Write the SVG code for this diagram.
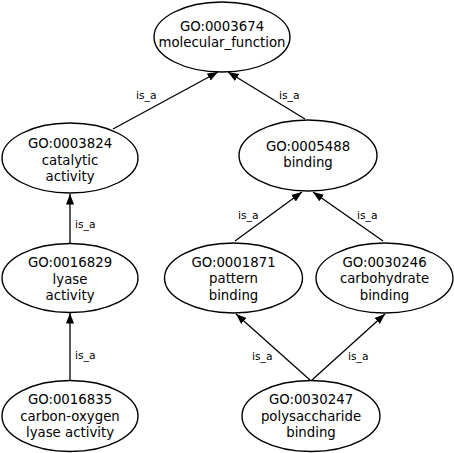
<svg xmlns="http://www.w3.org/2000/svg" width="454" height="453" viewBox="0 0 454 453">
<style>
.n ellipse{fill:#fff;stroke:#000;stroke-width:1.4}
.n text{font-family:"DejaVu Sans",sans-serif;font-size:13.3px;text-anchor:middle;fill:#000}
.e path{fill:none;stroke:#000;stroke-width:1.3;marker-end:url(#ah)}
.e text{font-family:"DejaVu Sans",sans-serif;font-size:10.7px;fill:#000}
</style>
<defs>
<marker id="ah" markerUnits="userSpaceOnUse" markerWidth="11" markerHeight="9" refX="10.5" refY="4.5" orient="auto">
<path d="M0,0.5 L10.5,4.5 L0,8.5 z" fill="#000"/>
</marker>
</defs>
<rect width="454" height="453" fill="#fff"/>
<g id="edges" class="e">
<path d="M113,129 L218,72"/>
<text x="136" y="99">is_a</text>
<path d="M305,119 L228,72"/>
<text x="279" y="99">is_a</text>
<path d="M70,244 L70,194"/>
<text x="75" y="228">is_a</text>
<path d="M70,380 L70,313"/>
<text x="75" y="359">is_a</text>
<path d="M235,241 L302,192"/>
<text x="238" y="219">is_a</text>
<path d="M383,241 L313,192"/>
<text x="357" y="219">is_a</text>
<path d="M310,380 L236,314"/>
<text x="252" y="360">is_a</text>
<path d="M312,380 L385,314"/>
<text x="348" y="360">is_a</text>
</g>
<g id="GO_0003674" class="n">
<ellipse cx="222" cy="37" rx="68" ry="35"/>
<text x="222" y="30.5">GO:0003674</text>
<text x="222" y="46.5">molecular_function</text>
</g>
<g id="GO_0003824" class="n">
<ellipse cx="70" cy="158" rx="68" ry="35"/>
<text x="70" y="147.5">GO:0003824</text>
<text x="70" y="164.5">catalytic</text>
<text x="70" y="181">activity</text>
</g>
<g id="GO_0005488" class="n">
<ellipse cx="308" cy="155.5" rx="69" ry="35.5"/>
<text x="308" y="151">GO:0005488</text>
<text x="308" y="167">binding</text>
</g>
<g id="GO_0016829" class="n">
<ellipse cx="70" cy="278" rx="68" ry="34.5"/>
<text x="70" y="267">GO:0016829</text>
<text x="70" y="283.5">lyase</text>
<text x="70" y="300">activity</text>
</g>
<g id="GO_0001871" class="n">
<ellipse cx="233.5" cy="278" rx="69" ry="35"/>
<text x="233.5" y="266.5">GO:0001871</text>
<text x="233.5" y="283">pattern</text>
<text x="233.5" y="299.5">binding</text>
</g>
<g id="GO_0030246" class="n">
<ellipse cx="384.5" cy="278" rx="68.5" ry="35"/>
<text x="384.5" y="266.5">GO:0030246</text>
<text x="384.5" y="283">carbohydrate</text>
<text x="384.5" y="299.5">binding</text>
</g>
<g id="GO_0016835" class="n">
<ellipse cx="70" cy="416" rx="68" ry="35.5"/>
<text x="70" y="404">GO:0016835</text>
<text x="70" y="420.5">carbon-oxygen</text>
<text x="70" y="437">lyase activity</text>
</g>
<g id="GO_0030247" class="n">
<ellipse cx="311" cy="416" rx="69" ry="35.5"/>
<text x="311" y="404">GO:0030247</text>
<text x="311" y="420.5">polysaccharide</text>
<text x="311" y="437">binding</text>
</g>
</svg>
